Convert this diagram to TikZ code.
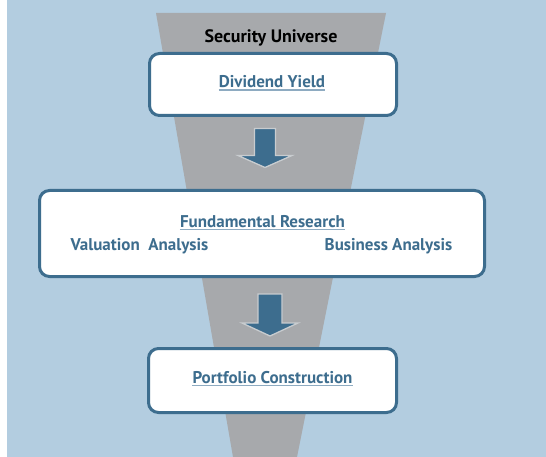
\documentclass[tikz,border=0pt]{standalone}
\usepackage{fontspec}
\setmainfont{PT Sans}
\definecolor{bgblue}{HTML}{B3CDE0}
\definecolor{funnelgray}{HTML}{A7A9AC}
\definecolor{darkblue}{HTML}{3D6D8E}
\definecolor{ulblue}{HTML}{8EABC1}
\definecolor{arrowedge}{HTML}{C8CCCF}
\tikzset{
  stagebox/.style={draw=darkblue, line width=3pt, fill=white, rounded corners=10pt, inner sep=0pt},
  boxtext/.style={text=darkblue, font=\bfseries\fontsize{17}{20}\selectfont, inner sep=0pt, anchor=base},
  toptext/.style={text=black, font=\bfseries\fontsize{18}{21}\selectfont, inner sep=0pt, anchor=base},
  ul/.style={draw=ulblue, line width=1.2pt},
  blockarrow/.style={fill=darkblue, draw=arrowedge, line width=1.3pt, line join=miter}
}
\begin{document}
\begin{tikzpicture}[x=1pt, y=-1pt]
\useasboundingbox (0,0) rectangle (546,457);
\fill[white] (0,0) rectangle (546,457);
\fill[bgblue] (7,0) rectangle (546,457);
% funnel
\fill[funnelgray] (156,13) -- (386,13) -- (297,457) -- (233,457) -- cycle;
\node[toptext] (su) at (271,43) {Security Universe};
% boxes
\node[stagebox, minimum width=247pt, minimum height=62pt] (b1) at (273,84.5) {};
\node[stagebox, minimum width=445pt, minimum height=86pt] (b2) at (262,233.5) {};
\node[stagebox, minimum width=248pt, minimum height=64pt] (b3) at (272.5,380.5) {};
% texts
\node[boxtext] (t1) at (272,88) {Dividend Yield};
\draw[ul] ([yshift=-2pt]t1.base west) -- ([yshift=-2pt]t1.base east);
\node[boxtext] (t2) at (262.5,227) {Fundamental Research};
\draw[ul] ([yshift=-2.5pt]t2.base west) -- ([yshift=-2.5pt]t2.base east);
\node[boxtext] (t2a) at (139.5,250.5) {Valuation\ \ Analysis};
\node[boxtext] (t2b) at (388.5,250.5) {Business Analysis};
\node[boxtext] (t3) at (272.5,383) {Portfolio Construction};
\draw[ul] ([yshift=-2.5pt]t3.base west) -- ([yshift=-2.5pt]t3.base east);
% block arrows
\draw[blockarrow] (254.5,128.5) -- (275.5,128.5) -- (275.5,155.5) -- (292,155.5) -- (265,167.5) -- (238,155.5) -- (254.5,155.5) -- cycle;
\draw[blockarrow] (258,294) -- (282,294) -- (282,323) -- (298,323) -- (270,336) -- (242,323) -- (258,323) -- cycle;
\end{tikzpicture}
\end{document}
